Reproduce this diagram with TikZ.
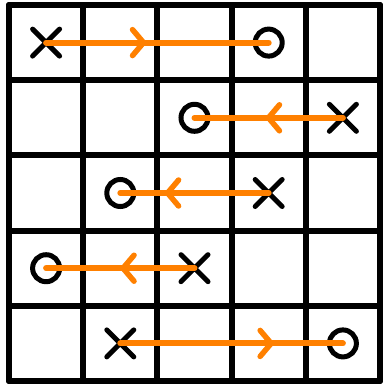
\documentclass[tikz,border=0pt]{standalone}
\usetikzlibrary{arrows.meta,shapes.misc,decorations.markings}
\definecolor{morange}{HTML}{FF8000}
\tikzset{
  gridln/.style={line width=6pt,black,line cap=round},
  xmark/.style={cross out,draw=black,line width=5pt,line cap=round,minimum size=22pt,inner sep=0pt},
  omark/.style={circle,draw=black,line width=5pt,minimum size=27pt,inner sep=0pt},
  mv/.style={morange,line width=6pt,line cap=round,postaction={decorate},
             decoration={markings,mark=at position #1 with
               {\arrow[line width=5.5pt,line cap=round]{Straight Barb[length=11pt,width=26pt,round]}}}},
}

\begin{document}
\begin{tikzpicture}[x=1pt,y=-1pt]
\useasboundingbox (0,0) rectangle (383,384);
% grid
\foreach \i in {0,...,5} {
  \draw[gridln] ({9+74.2*\i},5) -- ({9+74.2*\i},381);
  \draw[gridln] (9,{5+75.2*\i}) -- (380,{5+75.2*\i});
}
% markers (col/row of each cell)
\foreach \n/\c/\r in {x1/0/0,x2/4/1,x3/3/2,x4/2/3,x5/1/4}
  \node[xmark] (\n) at ({9+74.2*(\c+0.5)},{5+75.2*(\r+0.5)}) {};
\foreach \n/\c/\r in {o1/3/0,o2/2/1,o3/1/2,o4/0/3,o5/4/4}
  \node[omark] (\n) at ({9+74.2*(\c+0.5)},{5+75.2*(\r+0.5)}) {};
% moves
\draw[mv=0.45] (x1.center) -- (o1.center);
\draw[mv=0.52] (x2.center) -- (o2.center);
\draw[mv=0.7] (x3.center) -- (o3.center);
\draw[mv=0.5] (x4.center) -- (o4.center);
\draw[mv=0.69] (x5.center) -- (o5.center);
\end{tikzpicture}
\end{document}
